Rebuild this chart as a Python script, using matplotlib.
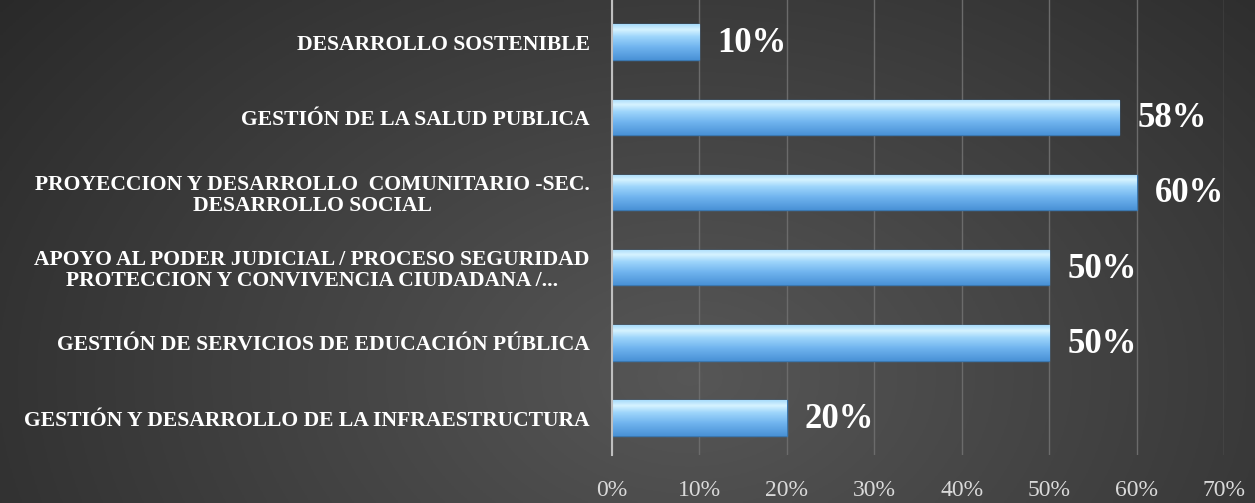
import numpy as np
import matplotlib
matplotlib.use("Agg")
import matplotlib.pyplot as plt
from matplotlib.colors import LinearSegmentedColormap

categories = [
    "GESTIÓN Y DESARROLLO DE LA INFRAESTRUCTURA",
    "GESTIÓN DE SERVICIOS DE EDUCACIÓN PÚBLICA",
    "APOYO AL PODER JUDICIAL / PROCESO SEGURIDAD\nPROTECCION Y CONVIVENCIA CIUDADANA /...",
    "PROYECCION Y DESARROLLO  COMUNITARIO -SEC.\nDESARROLLO SOCIAL",
    "GESTIÓN DE LA SALUD PUBLICA",
    "DESARROLLO SOSTENIBLE",
]
values = [20, 50, 50, 60, 58, 10]
xticks = [0, 10, 20, 30, 40, 50, 60, 70]
xtick_labels = ["0%", "10%", "20%", "30%", "40%", "50%", "60%", "70%"]

W, H = 1255, 503
fig = plt.figure(figsize=(W / 100, H / 100), dpi=100)

# background gradient
bg = fig.add_axes([0, 0, 1, 1])
bg.set_axis_off()
xx, yy = np.meshgrid(np.linspace(0, 1, 400), np.linspace(0, 1, 200))
d = np.sqrt(((xx - 0.55) / 0.75) ** 2 + ((yy - 0.75) / 1.3) ** 2)
shade = np.clip(0.34 - 0.19 * d, 0.15, 0.34)
img = np.dstack([shade, shade, shade])
bg.imshow(img, aspect="auto", extent=[0, 1, 0, 1], origin="upper")
bg.set_xlim(0, 1)
bg.set_ylim(0, 1)

ax = fig.add_axes([612 / W, 1 - 455 / H, (1224 - 612) / W, 455 / H])
ax.set_facecolor("none")
y = np.arange(len(categories))
bars = ax.barh(y, values, height=0.47, color="#7fc0f2", edgecolor="#3b78b0",
               linewidth=1.0, zorder=3)

cmap = LinearSegmentedColormap.from_list(
    "bar", [(0.0, "#4a92d6"), (0.35, "#6fb3ee"), (0.65, "#9dd5fb"),
            (0.85, "#d6f3ff"), (1.0, "#a9dcfb")])
grad = np.linspace(0, 1, 100).reshape(-1, 1)
for b in bars:
    x0, y0 = b.get_x(), b.get_y()
    w, h = b.get_width(), b.get_height()
    im = ax.imshow(grad, cmap=cmap, aspect="auto", origin="lower",
                   extent=[x0, x0 + w, y0, y0 + h], zorder=3.5)
    im.set_clip_path(b)

ax.set_xlim(0, 70)
ax.set_ylim(-0.49, 5.56)
ax.set_xticks(xticks)
ax.set_xticklabels(xtick_labels)
ax.set_yticks(y)
ax.set_yticklabels(categories, fontfamily="Liberation Serif", fontweight="bold",
                   fontsize=15.6, color="white", linespacing=1.05)
ax.tick_params(axis="y", length=0, pad=16)
ax.tick_params(axis="x", length=0, pad=18, colors="#d9d9d9", labelsize=17)
for t in ax.get_xticklabels():
    t.set_fontfamily("Liberation Serif")
for lab in ax.get_yticklabels():
    lab.set_horizontalalignment("right")
    lab.set_multialignment("center")

ax.grid(axis="x", color="#6b6b6b", linewidth=1, zorder=0)
for s in ["top", "right", "bottom"]:
    ax.spines[s].set_visible(False)
ax.spines["left"].set_color("#bfbfbf")
ax.spines["left"].set_linewidth(1.5)
ax.spines["left"].set_zorder(4)

for yi, v in zip(y, values):
    ax.annotate(f"{v}%", (v, yi), xytext=(13, -1), textcoords="offset points",
                ha="left", va="center", color="white", fontsize=25,
                fontweight="bold", fontfamily="Liberation Serif", zorder=5)

fig.savefig("out.png", dpi=100)
